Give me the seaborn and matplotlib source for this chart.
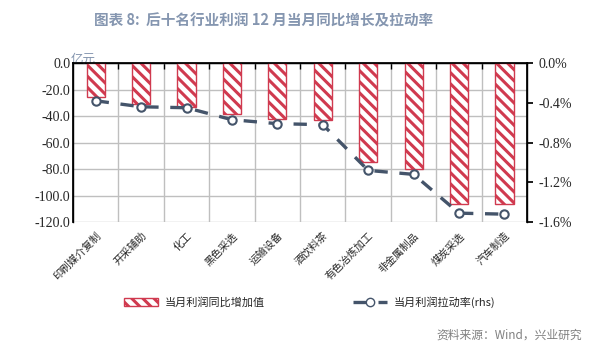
import matplotlib
matplotlib.use("Agg")
import matplotlib.pyplot as plt
import numpy as np
import pandas as pd
import seaborn as sns
from matplotlib.lines import Line2D
from matplotlib.patches import Patch
from matplotlib.ticker import FixedLocator

# ---- data ----
INDUSTRIES = ["印刷媒介复制", "开采辅助", "化工", "黑色采选", "运输设备",
              "酒饮料茶", "有色冶炼加工", "非金属制品", "煤炭采选", "汽车制造"]
PROFIT_CHG = [-25.5, -31.0, -33.0, -38.7, -42.5, -42.8, -75.0, -80.2, -106.0, -106.6]   # 亿元
PULL_RATE = [-0.38, -0.44, -0.45, -0.57, -0.61, -0.62, -1.08, -1.12, -1.51, -1.52]      # %

LEFT_TICKS = [-120, -100, -80, -60, -40, -20, 0]
RIGHT_TICKS = [-1.6, -1.2, -0.8, -0.4, 0.0]

BAR_LABEL = "当月利润同比增加值"
LINE_LABEL = "当月利润拉动率(rhs)"
TITLE = "图表 8:  后十名行业利润 12 月当月同比增长及拉动率"
SOURCE = "资料来源：Wind，兴业研究"

RED = "#d03a4f"
NAVY = "#44546a"
TITLE_C = "#8596b0"

sns.set_theme(style="white")
plt.rcParams["font.family"] = ["Noto Sans CJK SC", "DejaVu Sans"]
plt.rcParams["hatch.color"] = RED
plt.rcParams["hatch.linewidth"] = 2.2

df = pd.DataFrame({"industry": INDUSTRIES, "profit": PROFIT_CHG, "pull": PULL_RATE})
df["pos"] = np.arange(len(df))

fig = plt.figure(figsize=(6.13, 3.52), dpi=100)
ax = fig.add_axes([0.119, 0.369, 0.741, 0.452])

sns.barplot(data=df, x="industry", y="profit", ax=ax, width=0.4,
            color="white", edgecolor=RED, linewidth=1.0, zorder=3)
for p in ax.patches:
    p.set_hatch("\\\\\\")

ax.set_ylim(-120, 0)
ax.set_xlim(-0.5, len(df) - 0.5)
ax.set_yticks(LEFT_TICKS)
ax.set_yticklabels([f"{v:.1f}" for v in LEFT_TICKS],
                   family="Liberation Serif", fontsize=10)
ax.grid(axis="y", color="#bfbfbf", linewidth=1.0, zorder=0)
ax.xaxis.set_minor_locator(FixedLocator(np.arange(0.5, len(df) - 1, 1)))
ax.grid(axis="x", which="minor", color="#bfbfbf", linewidth=1.0, zorder=0)
ax.tick_params(axis="x", which="major", length=0, pad=6)
ax.tick_params(axis="x", which="minor", top=True, bottom=False, direction="in",
               length=4, color="black")
ax.tick_params(axis="y", length=0, pad=2)
ax.set_xticks(df["pos"])
ax.set_xticklabels(df["industry"], rotation=45, ha="right", va="top",
                   rotation_mode="anchor", fontsize=7.5)
ax.set_xlabel("")
ax.set_ylabel("")
for side in ["left", "top", "right"]:
    ax.spines[side].set_color("black")
    ax.spines[side].set_linewidth(1.0)
ax.spines["bottom"].set_visible(False)
ax.text(-0.005, 0.985, "亿元", transform=ax.transAxes, ha="left", va="bottom",
        fontsize=9, color=TITLE_C)

ax2 = ax.twinx()
sns.lineplot(data=df, x="pos", y="pull", ax=ax2, color=NAVY, linewidth=2.4,
             dashes=False, marker="o", markersize=6, markerfacecolor="white",
             markeredgecolor=NAVY, markeredgewidth=1.5, zorder=4)
ax2.lines[0].set_dashes([4, 3.5])
ax2.set_ylim(-1.6, 0)
ax2.set_yticks(RIGHT_TICKS)
ax2.set_yticklabels([f"{abs(v) if v == 0 else v:.1f}%" for v in RIGHT_TICKS],
                    family="Liberation Serif", fontsize=10)
ax2.tick_params(axis="y", direction="out", length=4, color="black", pad=4, right=True)
ax2.set_ylabel("")
ax2.set_xlabel("")
ax2.set_xlim(-0.5, len(df) - 0.5)
for side in ["left", "top", "right"]:
    ax2.spines[side].set_color("black")
ax2.spines["bottom"].set_visible(False)

handles = [Patch(facecolor="white", edgecolor=RED, hatch="\\\\\\", linewidth=1.0),
           Line2D([0], [0], color=NAVY, linewidth=2.4, dashes=[4, 3.5], marker="o",
                  markersize=6, markerfacecolor="white", markeredgecolor=NAVY)]
fig.legend(handles, [BAR_LABEL, LINE_LABEL], loc="center", ncol=2,
           bbox_to_anchor=(0.505, 0.142), frameon=False, fontsize=8,
           columnspacing=8, handlelength=3, handletextpad=0.6)

fig.text(0.43, 0.943, TITLE, ha="center", va="center", fontsize=10.5,
         fontweight="bold", color=TITLE_C)
fig.text(0.95, 0.048, SOURCE, ha="right", va="center", fontsize=8.5, color="#808080")

fig.savefig("out.png", dpi=100, facecolor="white")
